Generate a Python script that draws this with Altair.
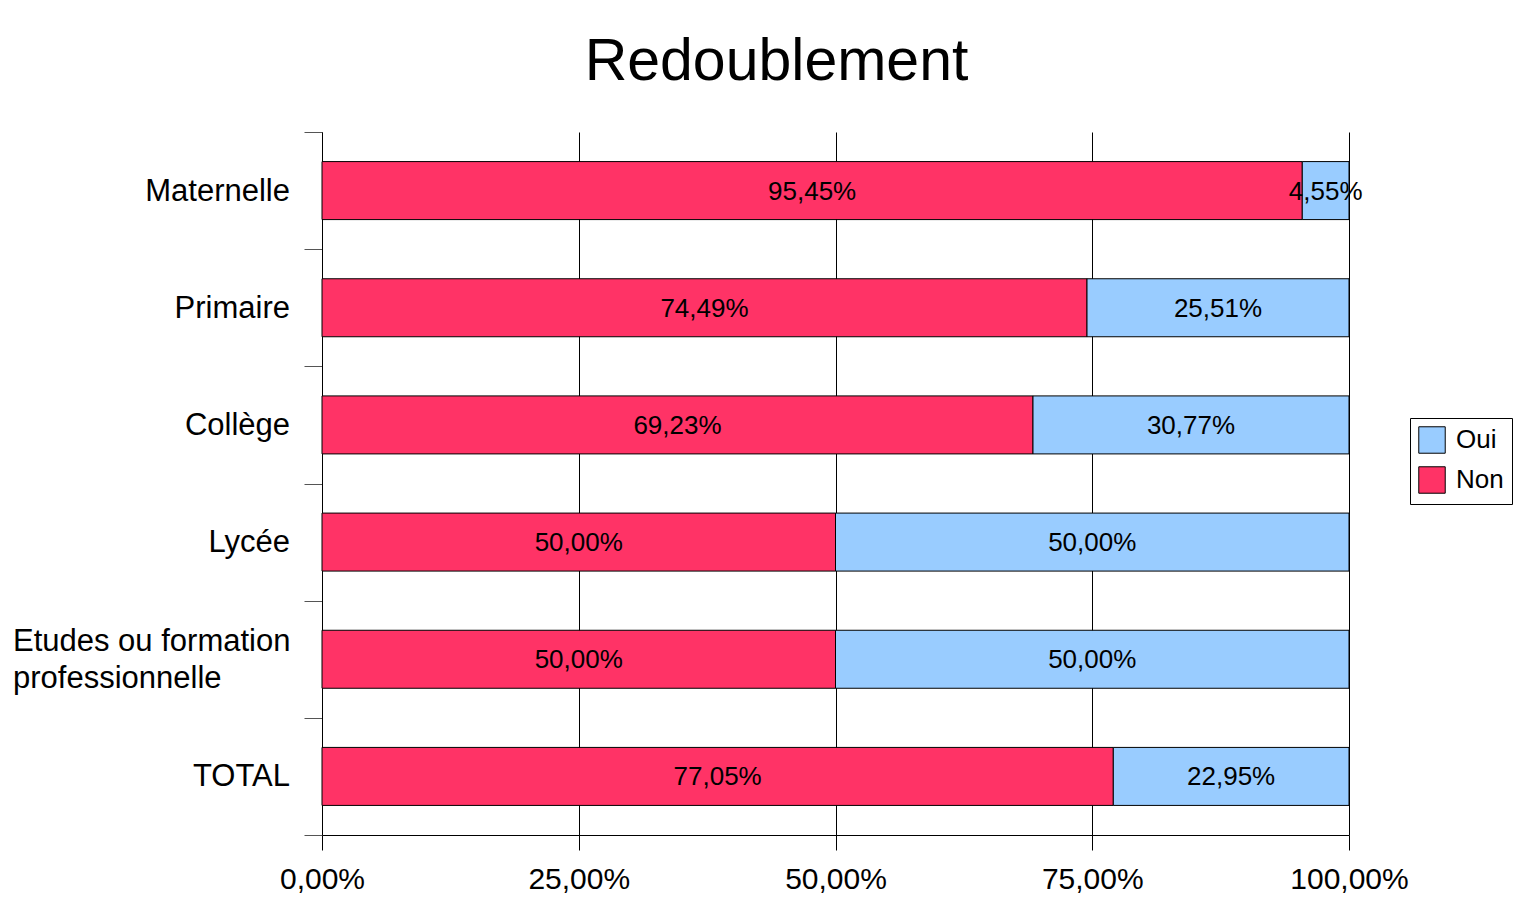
import altair as alt
import pandas as pd

categories = ["Maternelle", "Primaire", "Collège", "Lycée",
              "Etudes ou formation professionnelle", "TOTAL"]
non_values = [95.45, 74.49, 69.23, 50.00, 50.00, 77.05]
oui_values = [4.55, 25.51, 30.77, 50.00, 50.00, 22.95]
x_ticks = [0, 25, 50, 75, 100]

FONT = "Liberation Sans"

rows = []
for c, n, o in zip(categories, non_values, oui_values):
    rows.append(dict(cat=c, rep="Non", val=n, start=0.0, end=n, ordre=0))
    rows.append(dict(cat=c, rep="Oui", val=o, start=n, end=n + o, ordre=1))
df = pd.DataFrame(rows)
df["mid"] = (df["start"] + df["end"]) / 2
df["lab"] = df["val"].map(lambda v: f"{v:.2f}".replace(".", ",") + "%")

single = [c for c in categories if c != "Etudes ou formation professionnelle"]
lab_single = pd.DataFrame({"cat": single, "txt": single})
lab_multi = pd.DataFrame({"cat": ["Etudes ou formation professionnelle"],
                          "txt": ["Etudes ou formation\nprofessionnelle"]})

yscale = alt.Scale(domain=categories, paddingInner=0, paddingOuter=0)
xscale = alt.Scale(domain=[0, 100], nice=False)

bars = alt.Chart(df).mark_bar(size=58, stroke="#000000", strokeWidth=1).encode(
    y=alt.Y("cat:N", scale=yscale, sort=categories,
            axis=alt.Axis(title=None, labels=False, tickBand="extent",
                          tickSize=18, tickColor="#555555", domainColor="#000000",
                          grid=False)),
    x=alt.X("start:Q", scale=xscale,
            axis=alt.Axis(title=None, values=x_ticks, grid=True, gridColor="#000000",
                          gridOpacity=1, tickSize=15, tickColor="#000000",
                          domainColor="#000000",
                          labelExpr="replace(format(datum.value, '.2f'), '.', ',') + '%'",
                          labelFont=FONT, labelFontSize=30, labelColor="#000000",
                          labelPadding=14, labelFlush=False)),
    x2="end:Q",
    color=alt.Color("rep:N", scale=alt.Scale(domain=["Oui", "Non"],
                                             range=["#99CCFF", "#FF3366"]),
                    legend=alt.Legend(title=None, orient="none", legendX=1088,
                                      legendY=286, symbolType="square",
                                      symbolSize=700, symbolStrokeColor="#000000",
                                      symbolStrokeWidth=1, labelFont=FONT,
                                      labelFontSize=26, labelColor="#000000",
                                      strokeColor="#000000", padding=8,
                                      rowPadding=8, labelOffset=10,
                                      fillColor="#FFFFFF")),
    order=alt.Order("ordre:Q"),
)

texts = alt.Chart(df).mark_text(font=FONT, fontSize=26, color="#000000",
                                baseline="middle", dy=1).encode(
    y=alt.Y("cat:N", scale=yscale, sort=categories),
    x=alt.X("mid:Q", scale=xscale),
    text="lab:N",
)

ylab1 = alt.Chart(lab_single).mark_text(font=FONT, fontSize=31, color="#000000",
                                        align="right", baseline="middle",
                                        dy=1).encode(
    y=alt.Y("cat:N", scale=yscale, sort=categories),
    x=alt.value(-32),
    text="txt:N",
)
ylab2 = alt.Chart(lab_multi).mark_text(font=FONT, fontSize=31, color="#000000",
                                       align="left", baseline="middle",
                                       lineBreak="\n", lineHeight=37,
                                       dy=-17).encode(
    y=alt.Y("cat:N", scale=yscale, sort=categories),
    x=alt.value(-309),
    text="txt:N",
)

chart = alt.layer(bars, texts, ylab1, ylab2).properties(
    width=1027, height=703,
    title=alt.Title("Redoublement", font=FONT, fontSize=59, fontWeight="normal",
                    color="#000000", anchor="middle", dx=-59, offset=40),
    autosize=alt.AutoSizeParams(type="none"),
    padding={"left": 314, "top": 124, "right": 165, "bottom": 59},
    background="#FFFFFF",
).configure_view(stroke=None)

chart.save("out.html", embed_options={"renderer": "svg", "actions": False})
